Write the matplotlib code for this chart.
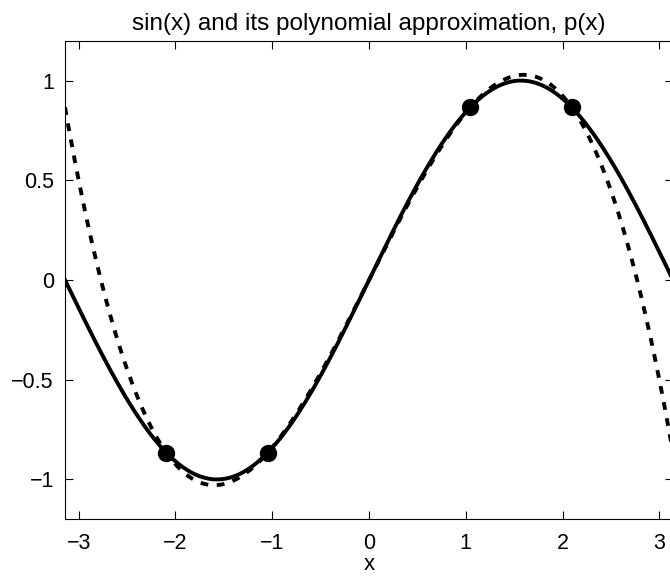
import numpy as np
import matplotlib.pyplot as plt

plt.rcParams['font.family'] = ['Liberation Sans', 'DejaVu Sans']

# interpolation nodes
nodes = [-2 * np.pi / 3, -np.pi / 3, np.pi / 3, 2 * np.pi / 3]
x = np.linspace(-np.pi, np.pi, 400)
y_sin = np.sin(x)

# cubic through the nodes
coef = np.polyfit(nodes, np.sin(nodes), 3)
y_poly = np.polyval(coef, x)

fig = plt.figure(figsize=(6.7, 5.76), dpi=100)
ax = fig.add_axes([65 / 670, 56.7 / 576, 608 / 670, 478.6 / 576])

ax.plot(x, y_sin, 'k-', linewidth=2.8)
ax.plot(x, y_poly, 'k--', linewidth=2.8, dashes=(2.0, 2.2))
ax.plot(nodes, np.sin(nodes), 'ko', markersize=11.5)

ax.set_xlim(-np.pi, np.pi)
ax.set_ylim(-1.2, 1.2)
ax.set_xticks([-3, -2, -1, 0, 1, 2, 3])
ax.set_yticks([-1, -0.5, 0, 0.5, 1])
ax.set_xticklabels(['\u22123', '\u22122', '\u22121', '0', '1', '2', '3'])
ax.set_yticklabels(['\u22121', '\u22120.5', '0', '0.5', '1'])
ax.tick_params(direction='in', top=True, right=True, length=6, width=0.8,
               labelsize=15.5, pad=8)
ax.tick_params(axis='x', pad=10)
ax.set_xlabel('x', fontsize=16, labelpad=0)
ax.set_title('sin(x) and its polynomial approximation, p(x)', fontsize=17.5, pad=8)

fig.savefig('out.png', dpi=100)
